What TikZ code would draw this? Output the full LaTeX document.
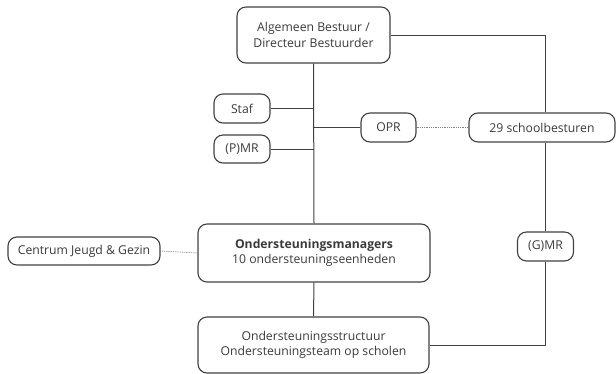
\documentclass[tikz,border=0pt]{standalone}
\usepackage{fontspec}
\setmainfont{Open Sans}
\definecolor{lijn}{HTML}{404040}
\begin{document}
\begin{tikzpicture}[x=1pt, y=-1pt,
    blok/.style={draw=lijn, line width=1.1pt, rounded corners=9pt, text=lijn!90!black,
        inner sep=0pt, align=center, font=\fontsize{12.2}{15.5}\selectfont},
    verbind/.style={draw=lijn, line width=1pt},
    stippel/.style={draw=gray, line width=0.8pt, densely dotted}]
    \useasboundingbox (0,0) rectangle (616,373);

    \node [blok, minimum width=153, minimum height=56] (bestuur) at (313.5,35) {Algemeen Bestuur /\\Directeur Bestuurder};
    \node [blok, minimum width=56, minimum height=29] (staf) at (242,108.5) {Staf};
    \node [blok, minimum width=56, minimum height=28] (pmr) at (242,149) {(P)MR};
    \node [blok, minimum width=55, minimum height=29] (opr) at (388.5,127.5) {OPR};
    \node [blok, minimum width=146, minimum height=29] (besturen) at (542,127.5) {29 schoolbesturen};
    \node [blok, minimum width=232, minimum height=58] (managers) at (314,253) {\textbf{Ondersteuningsmanagers}\\10 ondersteuningseenheden};
    \node [blok, minimum width=152, minimum height=28] (centrum) at (84,251) {Centrum Jeugd \& Gezin};
    \node [blok, minimum width=56, minimum height=29] (gmr) at (545.5,246.5) {(G)MR};
    \node [blok, minimum width=231, minimum height=56] (structuur) at (313.5,345) {Ondersteuningsstructuur\\Ondersteuningsteam op scholen};

    % hoofdlijn
    \draw [verbind] (bestuur.south) -- (managers.north);
    \draw [verbind] (managers.south) -- (structuur.north);
    \draw [verbind] (staf.east) -- (staf.east -| bestuur.south);
    \draw [verbind] (pmr.east) -- (pmr.east -| bestuur.south);
    \draw [verbind] (opr.west) -- (opr.west -| bestuur.south);

    % rechterkant
    \draw [verbind] (bestuur.east) -| (gmr.north |- besturen.north);
    \draw [verbind] (gmr.north |- besturen.south) -- (gmr.north);
    \draw [verbind] (gmr.south) |- (structuur.east);

    % stippellijnen
    \draw [stippel] (opr.east) -- (besturen.west);
    \draw [stippel] (centrum.east) -- (managers.west);
\end{tikzpicture}
\end{document}
